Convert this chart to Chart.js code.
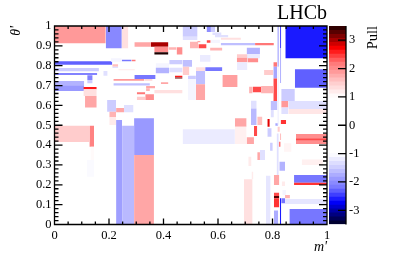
<!DOCTYPE html>
<html>
<head>
<meta charset="utf-8">
<script src="https://cdn.jsdelivr.net/npm/chart.js@4"></script>
<style>
html,body{margin:0;padding:0;background:#fff;overflow:hidden}
canvas{position:absolute;top:0}
#main{left:0}
#bar{left:320px}
</style>
</head>
<body>
<canvas id="main" width="394" height="267"></canvas>
<canvas id="bar" width="74" height="267"></canvas>
<script>
// --- DATI: bin del piano m', theta' e valore di pull ---
const mLow = [
  0,.188,.247,.47,.47,.293,.354,.366,.366,.418,
  .448,0,0,0,.12,.12,0,0,.106,.106,
  .112,.179,.207,.247,.283,.212,.212,.234,.293,.216,
  .33,.216,.371,.371,.421,.421,.47,.47,.442,.442,
  .39,.336,.336,.366,.302,.302,.333,.193,.201,.226,
  .255,.201,.226,.248,.292,.292,0,.128,.132,.118,
  .47,.558,.574,.579,.589,.61,.574,.61,.736,.571,
  .528,.497,.558,.524,.534,.705,.705,.669,.669,.708,
  .669,.519,.553,.519,.519,.49,.49,.616,.769,.803,
  .803,.803,.818,.827,.827,.847,.882,.832,.858,.832,
  .858,.832,.714,.727,.758,.721,.721,.662,.662,.705,
  .732,.744,.781,.781,.791,.744,.754,.711,.695,.723,
  .776,.805,.805,.805,.805,.805,.827,.832,.846,.846,
  .862,.836,.879,.879,.886,.886,.886,.907,.842,.825,
  .815,.823,.827,.83,.81,.793,.793,.818,.834,.818
];
const mHigh = [
  .188,.247,.271,.525,.525,.354,.418,.418,.418,.448,
  .47,.212,.163,.157,.14,.14,.109,.109,.155,.155,
  .155,.195,.247,.283,.298,.234,.234,.295,.371,.33,
  .36,.35,.421,.421,.47,.47,.505,.495,.47,.47,
  .418,.369,.35,.47,.333,.333,.365,.226,.226,.255,
  .29,.226,.248,.292,.365,.365,.128,.145,.145,.145,
  .662,.574,.589,.613,.638,.684,.607,.736,.805,.616,
  .558,.528,.573,.536,.573,.754,.754,.708,.708,.748,
  .708,.553,.616,.553,.553,.519,.519,.672,.803,.817,
  .817,.817,.823,.832,.832,1,1,.882,1,.858,
  1,.858,.727,.758,.803,.742,.742,.705,.705,.732,
  .744,.763,.79,.797,.801,.754,.773,.723,.727,.73,
  .793,.825,.825,.825,.825,.821,.832,.846,.864,1,
  1,.85,1,1,1,1,1,.985,.87,.846,
  .823,.83,.832,.85,.82,.818,.805,.827,.846,.823
];
const thetaLow = [
  .913,.888,.888,.946,.93,.896,.896,.868,.857,.88,
  .857,.805,.772,.753,.728,.711,.702,.672,.681,.647,
  .589,.75,.82,.822,.822,.795,.788,.777,.733,.724,
  .724,.7,.787,.762,.807,.767,.795,.753,.742,.735,
  .708,.686,.673,.661,.656,.627,.627,.568,.54,.565,
  .565,.501,0,0,.35,0,.415,.392,.325,.241,
  .405,.97,.97,.955,.943,.931,.914,.903,.903,.876,
  .888,.888,.916,.918,.82,.859,.837,.84,.817,.817,
  .778,.773,.773,.706,.627,.733,.627,.693,.753,.795,
  .736,.622,.795,.889,.713,.837,.689,.622,.582,.59,
  .557,.557,.661,.666,.661,.585,.501,.493,.405,.405,
  .446,.501,.493,.442,.372,.325,.325,.295,0,.228,
  0,.199,.143,.132,.087,0,0,.107,.132,.103,
  0,.149,.21,.199,.434,.422,.405,.3,.367,.271,
  .249,.392,.426,.506,.497,.577,.54,.467,.194,.5
];
const thetaHigh = [
  1,1,1,1,.946,.918,.918,.896,.868,.893,
  .893,.822,.788,.763,.752,.728,.723,.702,.693,.681,
  .647,.773,.837,.83,.83,.807,.795,.782,.753,.733,
  .733,.711,.812,.79,.829,.79,.829,.795,.75,.74,
  .717,.698,.686,.678,.666,.644,.656,.627,.568,.587,
  .602,.54,.527,.498,.535,.35,.498,.498,.392,.325,
  .48,1,1,.967,.955,.941,.931,.914,.914,.891,
  .908,.921,.928,.924,.854,.891,.859,.858,.84,.837,
  .817,.792,.792,.773,.706,.75,.733,.753,.778,.817,
  .795,.736,1,1,.889,1,.782,.683,.622,.622,
  .582,.59,.694,.694,.698,.624,.585,.535,.493,.44,
  .496,.543,.531,.485,.412,.364,.375,.341,.228,.266,
  .246,.249,.16,.143,.132,.07,.132,.132,.149,.128,
  .078,.174,.249,.21,.456,.434,.422,.328,.409,.316,
  .459,.417,.459,.526,.51,.622,.577,.493,.216,.795
];
const pullValues = [
  1.9,-2.05,1.3,-1.5,-1.3,1.8,3.0,2.0,3.5,1.7,
  2.0,-2.3,-1.5,-2.1,-2.1,-1.5,-1.7,-1.9,2.6,1.3,
  1.8,-1.3,-1.1,-2.2,2.2,1.6,-1.3,1.2,-2.2,1.9,
  1.4,-1.6,-1.1,-1.7,-1.5,-1.3,-1.6,1.5,2.6,3.2,
  1.8,1.8,1.7,1.3,2.2,1.5,2.0,-1.5,1.7,1.8,
  -1.3,1.2,-1.85,-1.65,-1.9,1.8,1.5,2.1,1.05,-1.05,
  -1.2,-2,-1.5,-1.3,-1.3,1.3,-1.1,-1.6,2.2,1.7,
  2.4,1.7,2.4,1.8,-1.2,-1.7,-1.2,1.5,1.9,2,
  -1.2,1.3,-2.2,-1.6,1.8,-1.5,-1.1,1.85,1.5,2.2,
  -1.8,2.4,-2,-2.4,-1.7,-2.6,-2.3,-1.5,-1.3,1.9,
  1.25,-1.3,1.7,2.4,1.7,-1.3,-1.65,1.8,1.15,1.8,
  2.4,1.6,2.8,-1.5,-1.5,1.8,-1.3,1.2,1.3,1.2,
  -1.25,1.8,2.4,3.3,2.5,-1.75,-2.6,-2.2,1.7,-1.25,
  -2.2,-1.1,-2.2,2.5,2,2.4,2,1.15,1.1,-1.7,
  -1.3,2.2,1.6,2.5,-1.8,-1.6,-1.3,1.5,1.2,-1.2
];

// tacche degli assi
const xMajorTicks = [0,.2,.4,.6,.8,1];
const xMinorTicks = [.05,.1,.15,.25,.3,.35,.45,.5,.55,.65,.7,.75,.85,.9,.95];
const yMajorTicks = [0,.1,.2,.3,.4,.5,.6,.7,.8,.9,1];
const yMinorTicks = [.02,.04,.06,.08,.12,.14,.16,.18,.22,.24,.26,.28,.32,.34,.36,.38,.42,.44,.46,.48,
  .52,.54,.56,.58,.62,.64,.66,.68,.72,.74,.76,.78,.82,.84,.86,.88,.92,.94,.96,.98];
const pullTicks = [-3,-2,-1,0,1,2,3];

// livelli della barra colori
const pullLevels = [-3.5,-3.36,-3.22,-3.08,-2.94,-2.8,-2.66,-2.52,-2.38,-2.24,-2.1,-1.96,-1.82,-1.68,-1.54,-1.4,-1.26,-1.12,-.98,
  .98,1.12,1.26,1.4,1.54,1.68,1.82,1.96,2.1,2.24,2.38,2.52,2.66,2.8,2.94,3.08,3.22,3.36,3.5];

// palette: |pull| -> componente chiara e canale pieno
const palStops = [1,1.5,1.9,2.2,2.5,2.7,3.6];
const palLight = [255,204,153,119,51,0,0];
const palFull  = [255,255,255,255,255,255,0];

const FONT = "'Liberation Serif'";

function lerpStops(v,arr){
  if(v<=palStops[0]) return arr[0];
  for(let i=1;i<palStops.length;i++){
    if(v<=palStops[i]){
      const t=(v-palStops[i-1])/(palStops[i]-palStops[i-1]);
      return Math.round(arr[i-1]+(arr[i]-arr[i-1])*t);
    }
  }
  return arr[arr.length-1];
}

function pullColor(p){
  const a=Math.abs(p);
  const l=lerpStops(a,palLight), f=lerpStops(a,palFull);
  return p>0 ? `rgb(${f},${l},${l})` : `rgb(${l},${l},${f})`;
}

// un rettangolo = linea a due punti riempita fino a y0
function rectDataset(x0,x1,y0,y1,color,idx){
  return {
    data:[{x:x0,y:y1},{x:x1,y:y1}],
    borderWidth:0,
    pointRadius:0,
    backgroundColor:color,
    fill:{value:y0},
    order:-idx
  };
}

const binSets = pullValues.map((p,i)=>rectDataset(mLow[i],mHigh[i],thetaLow[i],thetaHigh[i],pullColor(p),i));

// --- tacche interne e cornice ---
const frameTicks = {
  id:"frameTicks",
  afterDatasetsDraw(chart){
    const {ctx,chartArea:a,scales}=chart;
    ctx.save();
    ctx.strokeStyle="#000";
    ctx.lineWidth=1.3;
    ctx.beginPath();
    const vt=(v,len)=>{
      const px=scales.x.getPixelForValue(v);
      ctx.moveTo(px,a.bottom); ctx.lineTo(px,a.bottom-len);
      ctx.moveTo(px,a.top); ctx.lineTo(px,a.top+len);
    };
    const ht=(v,len)=>{
      const py=scales.y.getPixelForValue(v);
      ctx.moveTo(a.left,py); ctx.lineTo(a.left+len,py);
      ctx.moveTo(a.right,py); ctx.lineTo(a.right-len,py);
    };
    xMajorTicks.forEach(v=>vt(v,6));
    xMinorTicks.forEach(v=>vt(v,3));
    yMajorTicks.forEach(v=>ht(v,8));
    yMinorTicks.forEach(v=>ht(v,4));
    ctx.rect(a.left,a.top,a.right-a.left,a.bottom-a.top);
    ctx.stroke();
    ctx.restore();
  }
};

new Chart(document.getElementById("main"),{
  type:"line",
  data:{datasets:binSets},
  plugins:[frameTicks],
  options:{
    responsive:false,
    animation:false,
    layout:{padding:{top:0,left:0,right:67,bottom:0}},
    plugins:{
      legend:{display:false},
      tooltip:{enabled:false},
      title:{
        display:true,
        text:"LHCb",
        align:"end",
        fullSize:false,
        color:"#000",
        font:{family:FONT,size:20,weight:"normal",lineHeight:1.2},
        padding:{top:2,bottom:0}
      }
    },
    scales:{
      x:{
        type:"linear",min:0,max:1,
        afterFit:s=>{s.height=42.5;},
        grid:{display:false,drawTicks:false},
        border:{display:false},
        ticks:{stepSize:.2,maxRotation:0,padding:4,color:"#000",font:{family:FONT,size:12.5},callback:v=>String(Math.round(v*10)/10)},
        title:{display:true,text:"m'",align:"end",color:"#000",padding:{top:0,bottom:11},font:{family:FONT,size:14,style:"italic"}}
      },
      y:{
        min:0,max:1,
        afterFit:s=>{s.width=54.5;},
        grid:{display:false,drawTicks:false},
        border:{display:false},
        ticks:{stepSize:.1,padding:3,color:"#000",font:{family:FONT,size:12.5},callback:v=>String(Math.round(v*10)/10)},
        title:{display:true,text:"θ'",align:"end",color:"#000",padding:{top:8,bottom:0},font:{family:FONT,size:14,style:"italic"}}
      }
    }
  }
});

// --- BARRA COLORI ---
const barSets = [];
for(let i=0;i<pullLevels.length-1;i++){
  const lo=pullLevels[i], hi=pullLevels[i+1];
  // in alto si sovrappone al livello dopo, cosi' non restano fessure bianche
  const top = (i===pullLevels.length-2 || hi===-.98) ? hi : pullLevels[i+1]+.04;
  barSets.push(rectDataset(0,1,lo,top,pullColor((lo+hi)/2),i));
}

const barAxis = {
  id:"barAxis",
  afterDatasetsDraw(chart){
    const {ctx,chartArea:a,scales}=chart;
    ctx.save();
    ctx.strokeStyle="#000";
    ctx.lineWidth=1.3;
    ctx.beginPath();
    ctx.moveTo(a.right,a.top); ctx.lineTo(a.right,a.bottom);
    pullTicks.forEach(v=>{
      const py=scales.y.getPixelForValue(v);
      ctx.moveTo(a.right,py); ctx.lineTo(a.right-8,py);
    });
    ctx.stroke();
    // titolo ruotato verso l'alto
    ctx.translate(a.right+31,a.top);
    ctx.rotate(-Math.PI/2);
    ctx.fillStyle="#000";
    ctx.font="14.5px "+FONT;
    ctx.textAlign="right";
    ctx.textBaseline="alphabetic";
    ctx.fillText("Pull",0,0);
    ctx.restore();
  }
};

new Chart(document.getElementById("bar"),{
  type:"line",
  data:{datasets:barSets},
  plugins:[barAxis],
  options:{
    responsive:false,
    animation:false,
    layout:{padding:{top:26,left:9,right:0,bottom:42.5}},
    plugins:{legend:{display:false},tooltip:{enabled:false}},
    scales:{
      x:{type:"linear",min:0,max:1,display:false},
      y:{
        position:"right",min:-3.5,max:3.5,
        afterFit:s=>{s.width=48;},
        afterBuildTicks:s=>{s.ticks=pullTicks.map(v=>({value:v}));},
        grid:{display:false,drawTicks:false},
        border:{display:false},
        ticks:{padding:3,color:"#000",font:{family:FONT,size:12.5},autoSkip:false}
      }
    }
  }
});
</script>
</body>
</html>
